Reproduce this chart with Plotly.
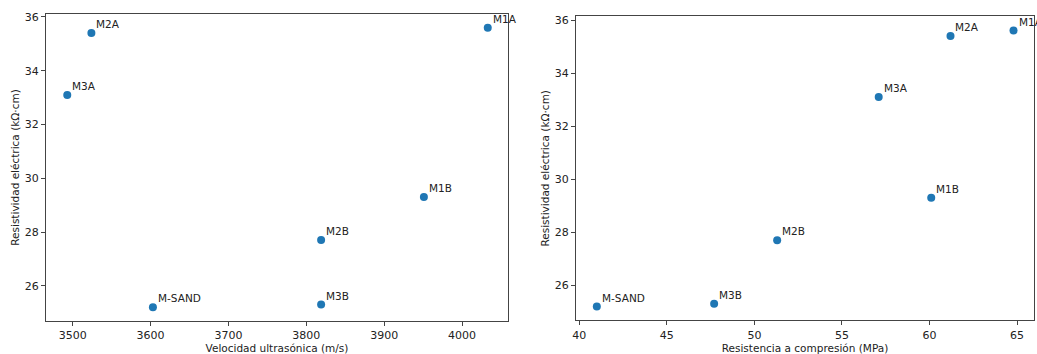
import plotly.graph_objects as go

labels = ["M1A", "M2A", "M3A", "M1B", "M2B", "M3B", "M-SAND"]
velocidad = [4033, 3524, 3493, 3951, 3819, 3819, 3603]
resistencia = [64.8, 61.2, 57.1, 60.1, 51.3, 47.7, 41.0]
resistividad = [35.6, 35.4, 33.1, 29.3, 27.7, 25.3, 25.2]

W, H = 1037, 354
color = "#1f77b4"
font = dict(family="DejaVu Sans", size=11, color="#222")

fig = go.Figure()
fig.add_trace(go.Scatter(x=velocidad, y=resistividad, mode="markers",
                         marker=dict(color=color, size=8), xaxis="x", yaxis="y",
                         showlegend=False, cliponaxis=False))
fig.add_trace(go.Scatter(x=resistencia, y=resistividad, mode="markers",
                         marker=dict(color=color, size=8), xaxis="x2", yaxis="y2",
                         showlegend=False, cliponaxis=False))

annotations = []
for xs, xr, yr in ((velocidad, "x", "y"), (resistencia, "x2", "y2")):
    for lab, xv, yv in zip(labels, xs, resistividad):
        annotations.append(dict(x=xv, y=yv, xref=xr, yref=yr, text=lab,
                                showarrow=False, xanchor="left", yanchor="bottom",
                                xshift=3, yshift=1, font=dict(family="DejaVu Sans", size=10.5, color="#222")))

axis_common = dict(showline=True, mirror=True, linecolor="#444", linewidth=1,
                   ticks="outside", ticklen=4, tickcolor="#444", showgrid=False,
                   zeroline=False, tickfont=font, automargin=False)

fig.update_layout(
    width=W, height=H,
    margin=dict(l=0, r=0, t=0, b=0, autoexpand=False),
    paper_bgcolor="white", plot_bgcolor="white",
    font=font,
    xaxis=dict(axis_common, domain=[46 / W, 508 / W], range=[3465.7, 4059],
               tickvals=[3500, 3600, 3700, 3800, 3900, 4000],
               title=dict(text="Velocidad ultrasónica (m/s)", font=dict(size=10.5), standoff=4),
               anchor="y"),
    yaxis=dict(axis_common, domain=[1 - 321 / H, 1 - 14 / H], range=[24.69, 36.11],
               tickvals=[26, 28, 30, 32, 34, 36],
               title=dict(text="Resistividad eléctrica (kΩ·cm)", font=dict(size=10.5), standoff=3),
               anchor="x"),
    xaxis2=dict(axis_common, domain=[576 / W, 1034 / W], range=[39.81, 65.97],
                tickvals=[40, 45, 50, 55, 60, 65],
                title=dict(text="Resistencia a compresión (MPa)", font=dict(size=10.5), standoff=4),
                anchor="y2"),
    yaxis2=dict(axis_common, domain=[1 - 320.3 / H, 1 - 16.3 / H], range=[24.68, 36.14],
                tickvals=[26, 28, 30, 32, 34, 36],
                title=dict(text="Resistividad eléctrica (kΩ·cm)", font=dict(size=10.5), standoff=3),
                anchor="x2"),
    annotations=annotations,
)

fig.write_html("out.html", config={"displayModeBar": False},
               post_script="document.body.style.margin='0';document.body.style.overflow='hidden';")
